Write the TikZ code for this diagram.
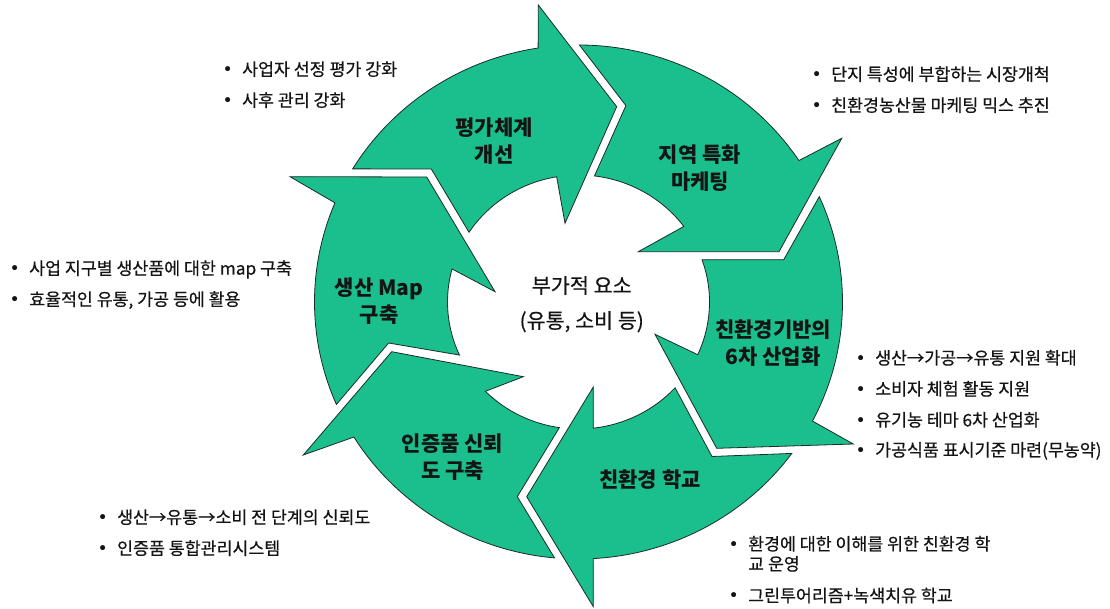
\documentclass[tikz,border=0pt]{standalone}
\usepackage{fontspec}
\setmainfont{Noto Sans CJK KR}
\newfontfamily\krtext{Noto Sans CJK KR}[FakeBold=0.5]
\newfontfamily\dejavu{DejaVu Sans}
\definecolor{arrowgreen}{RGB}{26,191,141}
\definecolor{arrowline}{RGB}{25,45,40}
\definecolor{txt}{RGB}{20,20,20}
\newcommand\bul{\llap{{\dejavu •}\hspace{9.3pt}}}
% #1 tail outer angle, #2 notch, #3 tail inner angle, #4 inner end angle,
% #5 inner barb, #6 tip, #7 outer barb, #8 outer end angle
\newcommand\cyclearrow[8]{%
  \path[cyclearrowstyle] ([shift={(#1:264pt and 257pt)}]C) -- #2 --
    ([shift={(#3:131pt and 127pt)}]C)
    arc[start angle=#3, end angle=#4, x radius=131pt, y radius=127pt]
    -- #5 -- #6 -- #7 -- ([shift={(#8:264pt and 257pt)}]C)
    arc[start angle=#8, end angle=#1, x radius=264pt, y radius=257pt] -- cycle;}
\begin{document}
\begin{tikzpicture}[x=1pt,y=-1pt,
  cyclearrowstyle/.style={fill=arrowgreen, draw=arrowline, line width=0.8pt, line join=miter},
  label/.style={font=\bfseries\fontsize{21}{27}\selectfont, align=center, text=txt, inner sep=0pt},
  centertext/.style={font=\krtext\fontsize{20.7}{35}\selectfont, align=center, text=txt, inner sep=0pt},
  item/.style={font=\krtext\fontsize{17.3}{20}\selectfont, anchor=west, text=txt, inner sep=0pt, text height=0.8em, text depth=0.07em}]
\useasboundingbox (0,0) rectangle (1110,609);
\coordinate (C) at (578.5,302);
% six arrows, clockwise
\cyclearrow{148.8}{(431.3,169)}{146.7}{99.6}{(565,223.3)}{(616.7,106.7)}{(538.3,5)}{98.8}
\cyclearrow{89.8}{(625.9,105.6)}{83}{36.5}{(638.3,251.7)}{(779,251.7)}{(841.7,138.3)}{33.4}
\cyclearrow{24.2}{(783.7,259.7)}{19.45}{-24.5}{(655,334.3)}{(716.7,448.3)}{(853.3,444)}{-27.6}
\cyclearrow{-36.1}{(712,456.5)}{-42.5}{-83.5}{(593.3,387)}{(526.7,496.7)}{(593.3,606.7)}{-86.8}
\cyclearrow{-95.2}{(517.3,496.7)}{-98.4}{-135.3}{(523.3,376.7)}{(391.7,351.7)}{(303.3,455)}{-148.3}
\cyclearrow{-156.5}{(388.6,343)}{-155.3}{-195.1}{(495,291.7)}{(426.7,177)}{(290,176.7)}{-202.7}
% labels
\node[label] (lab1) at (494,141.5) {평가체계\\개선};
\node[label] (lab2) at (700,168.5) {지역 특화\\마케팅};
\node[label] (lab3) at (773,343.3) {친환경기반의\\6차 산업화};
\node[label, text height=0.8em, text depth=0.07em] (lab4) at (650,484) {친환경 학교};
\node[label] (lab5) at (452.5,457.5) {인증품 신뢰\\도 구축};
\node[label] (lab6) at (379,300.8) {생산 Map\\구축};
\node[centertext] (mid) at (581.7,304.2) {부가적 요소\\(유통, 소비 등)};
% bullet lists
\node[item] (tl1) at (242,72) {\bul 사업자 선정 평가 강화};
\node[item] (tl2) at (242,103) {\bul 사후 관리 강화};
\node[item] (tr1) at (831,77) {\bul 단지 특성에 부합하는 시장개척};
\node[item] (tr2) at (831,108) {\bul 친환경농산물 마케팅 믹스 추진};
\node[item] (l1) at (29,271) {\bul 사업 지구별 생산품에 대한 map 구축};
\node[item] (l2) at (29,302) {\bul 효율적인 유통, 가공 등에 활용};
\node[item] (r1) at (875,360.7) {\bul 생산→가공→유통 지원 확대};
\node[item] (r2) at (875,391.7) {\bul 소비자 체험 활동 지원};
\node[item] (r3) at (875,422.7) {\bul 유기농 테마 6차 산업화};
\node[item] (r4) at (875,452.7) {\bul 가공식품 표시기준 마련(무농약)};
\node[item] (bl1) at (117,520) {\bul 생산→유통→소비 전 단계의 신뢰도};
\node[item] (bl2) at (117,551) {\bul 인증품 통합관리시스템};
\node[item] (br1) at (748,546.7) {\bul 환경에 대한 이해를 위한 친환경 학};
\node[item] (br1b) at (748,566.7) {교 운영};
\node[item] (br2) at (748,598.3) {\bul 그린투어리즘+녹색치유 학교};
\end{tikzpicture}
\end{document}
